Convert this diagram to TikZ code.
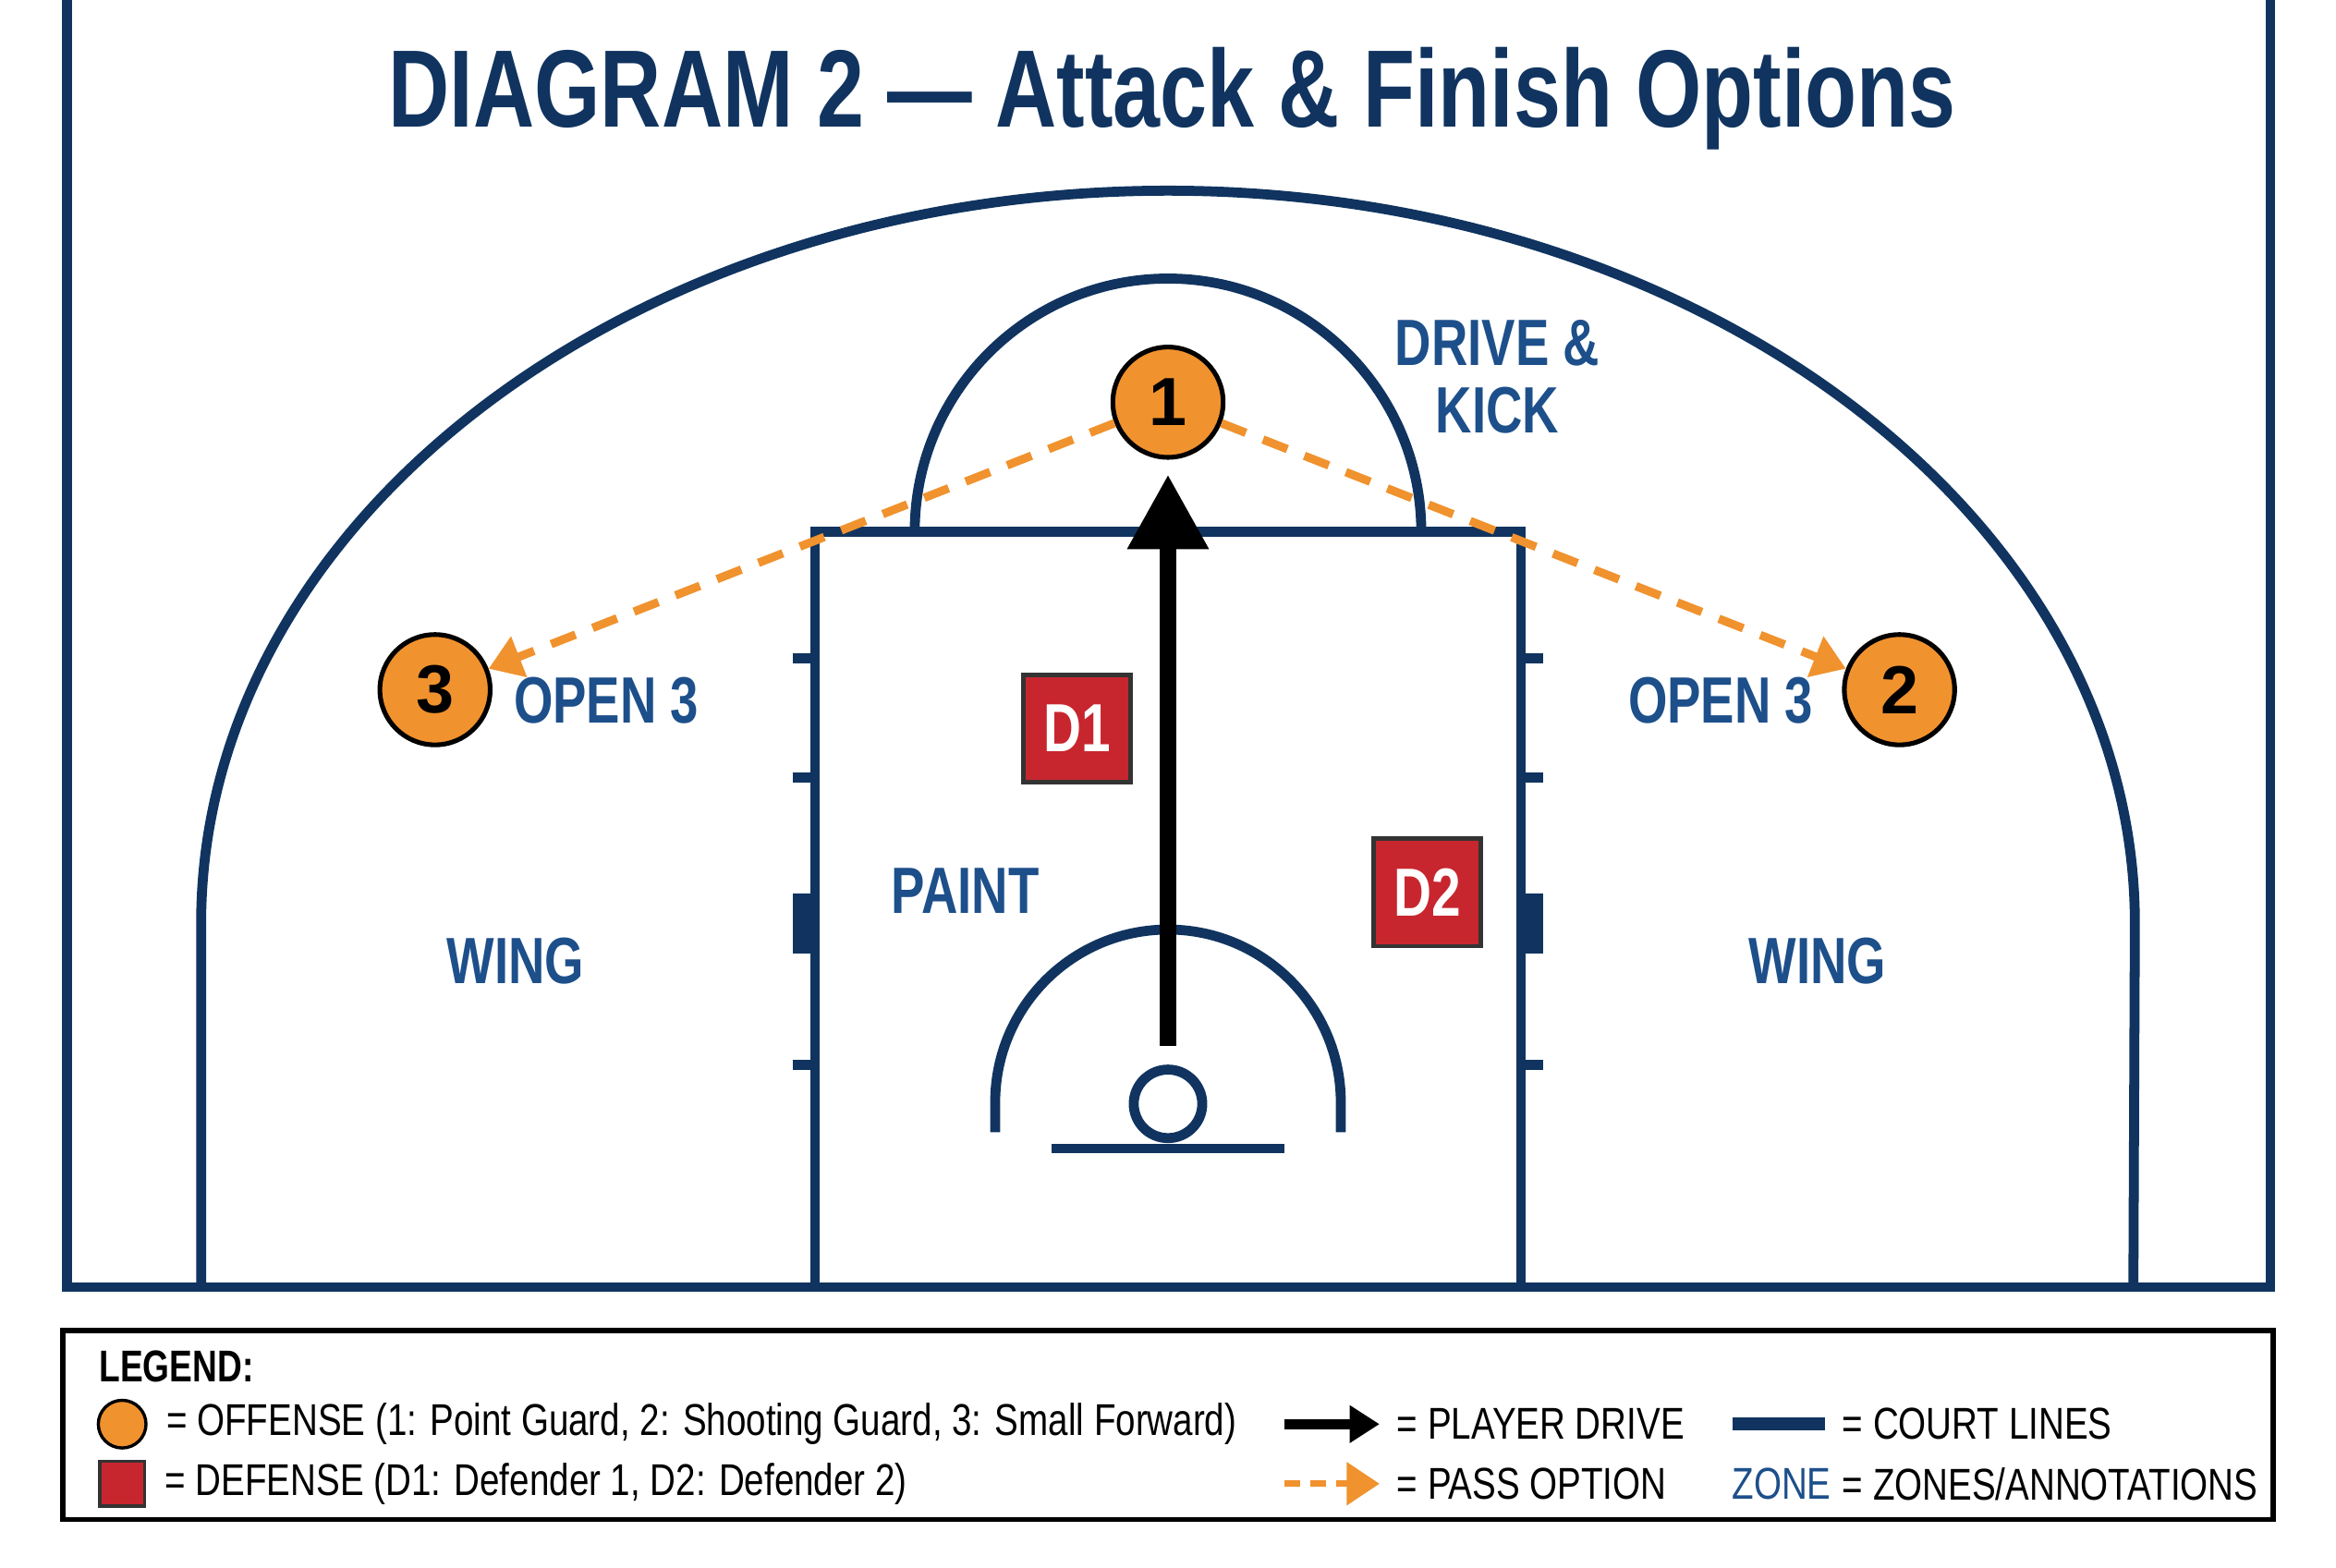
\documentclass[tikz,border=0pt]{standalone}
\usepackage{fontspec}
\setmainfont{Liberation Sans}
\usetikzlibrary{arrows.meta, positioning}
\definecolor{court}{HTML}{10345F}
\definecolor{zone}{HTML}{1D4F8A}
\definecolor{offense}{HTML}{F0922E}
\definecolor{defense}{HTML}{C8262E}
\newcommand{\nrw}[1]{\scalebox{0.77}[1]{#1}}
\newcommand{\lnrw}[1]{\scalebox{0.8}[1]{#1}}
\tikzset{
  line/.style={draw=court, line width=1.9pt},
  off/.style={circle, draw=black, line width=0.9pt, fill=offense, minimum size=0.74cm, inner sep=0pt, font=\bfseries\fontsize{13}{13}\selectfont},
  def/.style={rectangle, draw=black!80, line width=0.8pt, fill=defense, text=white, minimum size=0.72cm, inner sep=0pt, font=\bfseries\fontsize{13}{13}\selectfont},
  zonetext/.style={text=zone, font=\bfseries\fontsize{12.5}{12}\selectfont, align=center},
  drive/.style={line width=3pt, -{Triangle[length=0.5cm, width=0.52cm]}},
  pass/.style={draw=offense, line width=1.6pt, dash pattern=on 5pt off 3.5pt, -{Triangle[length=0.22cm, width=0.28cm]}},
  legtext/.style={anchor=west, font=\fontsize{8.5}{9}\selectfont, inner sep=0pt}
}
\begin{document}
\begin{tikzpicture}[x=0.01cm, y=-0.01cm]
  \useasboundingbox (0,0) rectangle (1568,1052);
  % Court
  \draw[line] (45,-10) -- (45,864) -- (1524,864) -- (1524,-10);
  \draw[line] (135,864) -- (135,620) arc[start angle=180, end angle=0, x radius=649, y radius=-492] -- (1432,864);
  \draw[line] (547,864) -- (547,357) -- (1021,357) -- (1021,864);
  \draw[line] (614,357) arc[start angle=180, end angle=0, x radius=170, y radius=-170];
  \foreach \y in {442,522,715} {
    \draw[line] (532,\y) -- (547,\y);
    \draw[line] (1021,\y) -- (1036,\y);
  }
  \fill[court] (532,600) rectangle (547,640);
  \fill[court] (1021,600) rectangle (1036,640);
  \draw[line] (668,760) -- (668,740) arc[start angle=180, end angle=0, x radius=116, y radius=-116] -- (900,760);
  \draw[line] (784,741) circle[radius=23];
  \draw[line] (706,771) -- (862,771);
  % Title
  \node (title) at (787,66) {\textcolor{court}{\bfseries\fontsize{21}{21}\selectfont\nrw{DIAGRAM 2 — Attack \& Finish Options}}};
  % Zones
  \node[zonetext] (dk) at (1005,253) {\nrw{DRIVE \&}\\[1pt]\nrw{KICK}};
  \node[zonetext] (open3l) at (407,470) {\nrw{OPEN 3}};
  \node[zonetext] (open3r) at (1155,470) {\nrw{OPEN 3}};
  \node[zonetext] (paint) at (648,598) {\nrw{PAINT}};
  \node[zonetext] (wingl) at (346,645) {\nrw{WING}};
  \node[zonetext] (wingr) at (1220,645) {\nrw{WING}};
  % Players
  \coordinate (drivestart) at (784,702);
  \node[off] (p1) at (784,270) {1};
  \node[off] (p3) at (292,463) {3};
  \node[off] (p2) at (1275,463) {2};
  \node[def] (d1) at (723,489) {\nrw{D1}};
  \node[def] (d2) at (958,599) {\nrw{D2}};
  % Moves
  \draw[drive] (drivestart) -- ([yshift=-0.1cm]p1.south);
  \draw[pass] (p1) -- (p3);
  \draw[pass] (p1) -- (p2);
  % Legend
  \draw[black, line width=1pt] (42,893) rectangle (1526,1020);
  \node[legtext, font=\bfseries\fontsize{8.5}{9}\selectfont] (leg) at (66,917) {\nrw{LEGEND:}};
  \node[off, minimum size=0.32cm, line width=0.6pt] (legoff) at (82,956) {};
  \node[legtext, right=0.12cm of legoff] {\lnrw{= OFFENSE (1: Point Guard, 2: Shooting Guard, 3: Small Forward)}};
  \node[def, minimum size=0.3cm, line width=0.6pt] (legdef) at (82,996) {};
  \node[legtext, right=0.12cm of legdef] {\lnrw{= DEFENSE (D1: Defender 1, D2: Defender 2)}};
  \coordinate (dr1) at (862,956); \coordinate (dr2) at (926,956);
  \draw[line width=2pt, -{Triangle[length=0.2cm, width=0.24cm]}] (dr1) -- (dr2);
  \node[legtext] (legdrive) at (937,956) {\lnrw{= PLAYER DRIVE}};
  \coordinate (pa1) at (862,996); \coordinate (pa2) at (926,996);
  \draw[pass, line width=1.3pt, dash pattern=on 3pt off 2pt] (pa1) -- (pa2);
  \node[legtext] (legpass) at (937,996) {\lnrw{= PASS OPTION}};
  \draw[court, line width=2.5pt] (1163,956) -- (1225,956);
  \node[legtext] (legcourt) at (1236,956) {\lnrw{= COURT LINES}};
  \node[legtext, text=zone] (legzone) at (1162,996) {\lnrw{ZONE}};
  \node[legtext] at (1236,996) {\lnrw{= ZONES/ANNOTATIONS}};
\end{tikzpicture}
\end{document}
